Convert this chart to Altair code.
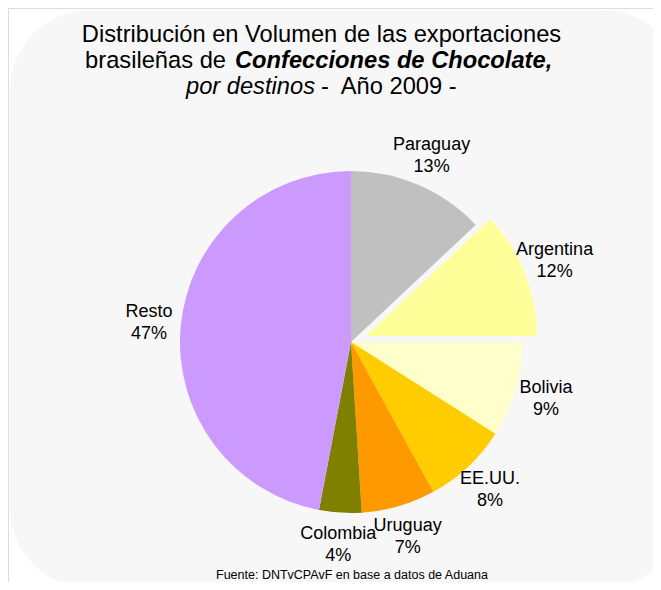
import altair as alt
import pandas as pd
import math

paises = ["Paraguay", "Argentina", "Bolivia", "EE.UU.", "Uruguay", "Colombia", "Resto"]
porcentajes = [13, 12, 9, 8, 7, 4, 47]
colores = ["#C0C0C0", "#FFFF99", "#FFFFCC", "#FFCC00", "#FF9900", "#808000", "#CC99FF"]
destacado = "Argentina"

titulo_1 = "Distribución en Volumen de las exportaciones"
titulo_2a = "brasileñas de"
titulo_2b = "Confecciones de Chocolate,"
titulo_3a = "por destinos"
titulo_3b = "-\u00a0 Año 2009 -"
fuente = "Fuente: DNTvCPAvF en base a datos de Aduana"

FONT = "Liberation Sans"
W, H = 645, 574
CX, CY, R = 343, 334, 171
EXPLODE = 16
LH = 22

df = pd.DataFrame({"pais": paises, "pct": porcentajes, "orden": list(range(len(paises)))})

theta_scale = alt.Scale(domain=[0, 100], range=[0, 6.283185307179586])
color_scale = alt.Scale(domain=paises, range=colores)

base = alt.Chart(df).transform_window(
    cum="sum(pct)", sort=[alt.SortField("orden")], frame=[None, 0]
).transform_calculate(
    t0="datum.cum - datum.pct",
    mid="datum.cum - datum.pct / 2",
    label="datum.pais + '\\n' + datum.pct + '%'",
)

bg = alt.Chart(pd.DataFrame({"a": [0]})).mark_rect(
    fill="#F7F7F7", strokeWidth=0, cornerRadius=80
).encode(x=alt.value(2), x2=alt.value(W + 30), y=alt.value(2), y2=alt.value(580))

# exploded slice offset along its bisector
cum = 0
for p, v in zip(paises, porcentajes):
    if p == destacado:
        mid_ang = (cum + v / 2) / 100 * 2 * math.pi
        break
    cum += v
ex_dx = EXPLODE * math.sin(mid_ang)
ex_dy = -EXPLODE * math.cos(mid_ang)


def arc_layer(flt, cx, cy):
    return base.transform_filter(flt).mark_arc(outerRadius=R, strokeWidth=0).encode(
        theta=alt.Theta("t0:Q", scale=theta_scale),
        theta2="cum:Q",
        color=alt.Color("pais:N", scale=color_scale, legend=None),
        x=alt.value(cx),
        y=alt.value(cy),
    )


def label_layer(flt, cx, cy):
    return base.transform_filter(flt).mark_text(
        font=FONT, fontSize=18, color="#000000", lineBreak="\n",
        align="center", baseline="middle", lineHeight=LH, dy=-LH / 2
    ).encode(
        theta=alt.Theta("mid:Q", scale=theta_scale),
        radius=alt.value(R + 32),
        text="label:N",
        x=alt.value(cx),
        y=alt.value(cy),
    )


f_rest = f"datum.pais != '{destacado}'"
f_ex = f"datum.pais == '{destacado}'"
arcs = arc_layer(f_rest, CX, CY)
arc_ex = arc_layer(f_ex, CX + ex_dx, CY + ex_dy)
labels = label_layer(f_rest, CX, CY)
label_ex = label_layer(f_ex, CX + ex_dx, CY + ex_dy)


def txt(s, x, y, size=23.7, align="center", weight="normal", style="normal"):
    return alt.Chart(pd.DataFrame({"t": [s]})).mark_text(
        font=FONT, fontSize=size, align=align, baseline="alphabetic",
        fontWeight=weight, fontStyle=style, color="#000000"
    ).encode(text="t:N", x=alt.value(x), y=alt.value(y))


t1 = txt(titulo_1, 313.5, 34)
t2a = txt(titulo_2a, 218, 60, align="right")
t2b = txt(titulo_2b, 227, 60, align="left", weight="bold", style="italic")
t3a = txt(titulo_3a, 307, 86, align="right", style="italic")
t3b = txt(titulo_3b, 313, 86, align="left")
foot = txt(fuente, 344, 571, size=12.5)

chart = alt.layer(bg, arcs, arc_ex, labels, label_ex, t1, t2a, t2b, t3a, t3b, foot).properties(
    width=W, height=H, padding=0, autosize=alt.AutoSizeParams(type="none")
).configure_view(stroke=None).configure(background="#FFFFFF")

chart.save("out.html", embed_options={"renderer": "svg", "actions": False})
